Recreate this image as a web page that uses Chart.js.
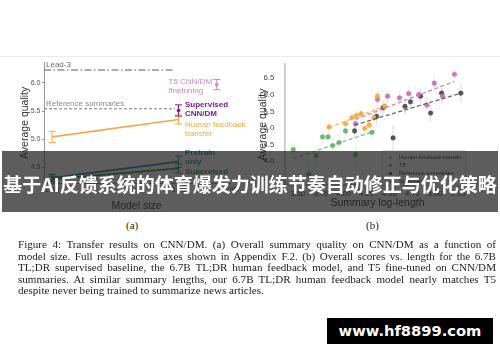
<!DOCTYPE html>
<html lang="zh">
<head>
  <meta charset="UTF-8">
  <title>Figure 4</title>
  <script src="https://cdn.jsdelivr.net/npm/chart.js"></script>
  <style>
    html, body {
      margin: 0;
      padding: 0;
      background: #fff;
    }
    body {
      position: relative;
      width: 500px;
      height: 362px;
      overflow: hidden;
      font-family: "Liberation Sans", Arial, sans-serif;
    }
    .rule {
      position: absolute;
      left: 0;
      top: 56px;
      width: 500px;
      height: 1px;
      background: #ececec;
    }
    #chart-a, #chart-b {
      position: absolute;
      top: 57px;
    }
    #chart-a { left: 0; }
    #chart-b { left: 250px; }
    .legend {
      position: absolute;
      left: 382px;
      top: 150px;
      width: 84px;
      height: 36px;
      box-sizing: border-box;
      padding: 2px 0 0 5px;
      background: rgba(255, 255, 255, 0.85);
      border: 1px solid #ddd;
      border-radius: 2px;
      font-size: 5.6px;
      color: #333;
    }
    .legend div {
      height: 8px;
      line-height: 8px;
      white-space: nowrap;
    }
    .legend span {
      display: inline-block;
      width: 3px;
      height: 3px;
      border-radius: 50%;
      margin: 0 7px 0 1px;
      vertical-align: middle;
    }
    .sub {
      position: absolute;
      top: 219px;
      font: 11px "Liberation Serif", "Times New Roman", serif;
      color: #222;
    }
    .caption {
      position: absolute;
      left: 18px;
      top: 239px;
      width: 478px;
      font: 11.1px/11.6px "Liberation Serif", "Times New Roman", serif;
      color: #222;
    }
    .caption div {
      text-align: justify;
      text-align-last: justify;
    }
    .caption div:last-child {
      text-align-last: left;
    }
    .banner {
      position: absolute;
      left: 2px;
      top: 151px;
      width: 496px;
      height: 61px;
      background: rgba(30, 30, 30, 0.72);
      color: #fff;
      font: bold 19px "Noto Sans CJK SC", sans-serif;
      display: flex;
      align-items: center;
      justify-content: center;
      padding-top: 3px;
      box-sizing: border-box;
      white-space: nowrap;
    }
    .mark {
      position: absolute;
      left: 327px;
      top: 318px;
      width: 166px;
      height: 26px;
      background: #000;
      color: #fff;
      font: bold 14.7px "DejaVu Sans", sans-serif;
      line-height: 26px;
      text-align: center;
    }
  </style>
</head>
<body>

<div class="rule"></div>
<canvas id="chart-a" width="250" height="158"></canvas>
<canvas id="chart-b" width="250" height="158"></canvas>
<div class="legend" id="legend-b"></div>

<div class="sub" style="left:126px">(a)</div>
<div class="sub" style="left:366px">(b)</div>

<div class="caption">
  <div>Figure 4: Transfer results on CNN/DM. (a) Overall summary quality on CNN/DM as a function of</div>
  <div>model size. Full results across axes shown in Appendix F.2. (b) Overall scores vs. length for the 6.7B</div>
  <div>TL;DR supervised baseline, the 6.7B TL;DR human feedback model, and T5 fine-tuned on CNN/DM</div>
  <div>summaries. At similar summary lengths, our 6.7B TL;DR human feedback model nearly matches T5</div>
  <div>despite never being trained to summarize news articles.</div>
</div>

<div class="banner">基于AI反馈系统的体育爆发力训练节奏自动修正与优化策略</div>
<div class="mark">www.hf8899.com</div>

<script>
  // (a) quality vs model size
  const sizeTicks = [1.3, 2.7, 6.7, 12.9];
  const qualityTicksA = [4.5, 5.0, 5.5, 6.0];
  const sizes = [1.3, 6.7];
  const lead3 = 6.23;
  const refSummaries = 5.54;
  const hfTransfer = [5.04, 5.35];
  const hfTransferErr = [0.10, 0.08];
  const pretrainOnly = [4.31, 4.60];
  const pretrainOnlyErr = [0.06, 0.10];
  const supervised = [4.29, 4.48];
  const supervisedErr = [0.05, 0.08];
  const supCnnSize = [6.7];
  const supCnn = [5.51];
  const supCnnErr = [0.10];
  const t5Size = [11];
  const t5Quality = [5.97];
  const t5Err = [0.09];

  // (b) quality vs summary log-length
  const lenTicks = [3.5, 3.75, 4.0, 4.25, 4.5, 4.75, 5.0, 5.25];
  const qualityTicksB = [3.5, 4.0, 4.5, 5.0, 5.5, 6.0, 6.5];
  const supLen  = [3.45, 3.62, 3.70, 3.77, 3.83, 3.88, 3.95, 4.02, 4.13, 4.31];
  const supQual = [4.35, 3.60, 4.17, 4.73, 4.73, 4.47, 4.56, 4.91, 4.20, 4.87];
  const supQErr = [0.25, 0.30, 0.25, 0.22, 0.22, 0.22, 0.22, 0.20, 0.30, 0.22];
  const hfLen  = [3.84, 4.02, 4.09, 4.14, 4.19, 4.23, 4.28, 4.33, 4.37, 4.45];
  const hfQual = [5.03, 5.13, 5.31, 5.38, 5.43, 4.99, 5.09, 5.31, 5.96, 5.66];
  const hfQErr = [0.22, 0.25, 0.22, 0.22, 0.22, 0.25, 0.25, 0.22, 0.25, 0.22];
  const t5Len  = [4.13, 4.37, 4.48, 4.61, 4.71, 4.82, 4.91, 4.99, 5.08, 5.21];
  const t5Qual = [5.13, 5.86, 5.96, 5.91, 6.04, 6.01, 5.69, 6.35, 5.96, 6.62];
  const t5QErr = [0.22, 0.22, 0.20, 0.20, 0.22, 0.22, 0.25, 0.20, 0.22, 0.15];
  const refLen  = [4.12, 4.36, 4.43, 4.54, 4.67, 4.73, 4.84, 4.95, 5.07, 5.28];
  const refQual = [4.91, 5.35, 5.61, 4.70, 5.65, 5.79, 5.96, 5.45, 6.05, 6.05];
  const refQErr = [0.25, 0.25, 0.25, 0.37, 0.25, 0.25, 0.25, 0.27, 0.25, 0.28];
  const supTrend = [[3.45, 4.08], [4.31, 4.88]];
  const hfTrend  = [[3.84, 5.01], [4.45, 5.66]];
  const t5Trend  = [[4.13, 5.26], [5.21, 6.41]];
  const refTrend = [[4.12, 5.09], [5.28, 6.05]];

  const FONT = '"Liberation Sans", Arial, sans-serif';
  const C = {
    orange: '#f5a846',
    purple: '#7c1c88',
    pink: '#c98ac2',
    teal: '#2e879c',
    green: '#3f8f4c',
    bGreen: '#5ab466',
    bOrange: '#f5a640',
    bPink: '#c56ab8',
    bGray: '#444444'
  };

  const pts = (xs, ys) => xs.map((v, i) => ({ x: v, y: ys[i] }));
  const alpha = (hex, a) => {
    const n = parseInt(hex.slice(1), 16);
    return `rgba(${n >> 16},${(n >> 8) & 255},${n & 255},${a})`;
  };

  // vertical error bars, drawn through the chart's own scales
  const errorBars = {
    id: 'errorBars',
    beforeDatasetsDraw(chart, args, opts) {
      const { ctx, scales: { x, y } } = chart;
      ctx.save();
      ctx.lineWidth = opts.width || 1;
      chart.data.datasets.forEach(ds => {
        if (!ds.errors) return;
        ctx.strokeStyle = ds.errorColor;
        ds.data.forEach((p, i) => {
          const e = ds.errors[i];
          if (!e) return;
          const px = x.getPixelForValue(p.x);
          const y0 = y.getPixelForValue(p.y - e);
          const y1 = y.getPixelForValue(p.y + e);
          ctx.beginPath();
          ctx.moveTo(px, y0);
          ctx.lineTo(px, y1);
          if (opts.cap) {
            ctx.moveTo(px - opts.cap, y0); ctx.lineTo(px + opts.cap, y0);
            ctx.moveTo(px - opts.cap, y1); ctx.lineTo(px + opts.cap, y1);
          }
          ctx.stroke();
        });
      });
      ctx.restore();
    }
  };

  // inline series labels for panel (a)
  const seriesLabels = {
    id: 'seriesLabels',
    afterDraw(chart, args, opts) {
      const { ctx, scales: { x, y } } = chart;
      ctx.save();
      ctx.textBaseline = 'middle';
      opts.items.forEach(it => {
        ctx.font = `${it.bold ? 'bold ' : ''}${it.size || 8}px ${FONT}`;
        ctx.fillStyle = it.color;
        const px = x.getPixelForValue(it.x) + it.dx;
        const py = y.getPixelForValue(it.y);
        it.lines.forEach((t, k) => ctx.fillText(t, px, py + k * 9));
      });
      ctx.restore();
    }
  };

  new Chart(document.getElementById('chart-a'), {
    type: 'line',
    data: {
      datasets: [
        { data: pts([1.17, 6.4], [lead3, lead3]), borderColor: '#5a5a5a', borderWidth: 1,
          borderDash: [7, 2.5, 1.5, 2.5], pointRadius: 0 },
        { data: pts([1.17, 6.4], [refSummaries, refSummaries]), borderColor: '#7d7d7d', borderWidth: 1,
          borderDash: [3, 2], pointRadius: 0 },
        { data: pts(sizes, hfTransfer), borderColor: C.orange, borderWidth: 1.7, pointRadius: 0,
          errors: hfTransferErr, errorColor: C.orange },
        { data: pts(sizes, pretrainOnly), borderColor: C.teal, borderWidth: 1.7, pointRadius: 0,
          errors: pretrainOnlyErr, errorColor: C.teal },
        { data: pts(sizes, supervised), borderColor: C.green, borderWidth: 1.7, pointRadius: 0,
          errors: supervisedErr, errorColor: C.green },
        { data: pts(supCnnSize, supCnn), showLine: false, pointRadius: 1.8, borderWidth: 0,
          backgroundColor: C.purple, errors: supCnnErr, errorColor: C.purple },
        { data: pts(t5Size, t5Quality), showLine: false, pointRadius: 1.8, borderWidth: 0,
          backgroundColor: C.pink, errors: t5Err, errorColor: C.pink }
      ]
    },
    options: {
      responsive: false,
      animation: false,
      layout: { padding: { top: 5, right: 21, left: 0, bottom: 0 } },
      plugins: {
        legend: { display: false },
        tooltip: { enabled: false },
        errorBars: { cap: 3.5, width: 1 },
        seriesLabels: {
          items: [
            { lines: ['Lead-3'], x: 1.17, dx: 2, y: 6.32, color: '#6a6a6a' },
            { lines: ['Reference summaries'], x: 1.17, dx: 2, y: 5.63, color: '#8a8a8a' },
            { lines: ['T5 CNN/DM', 'finetuning'], x: 6.7, dx: -10, y: 6.02, color: C.pink },
            { lines: ['Supervised', 'CNN/DM'], x: 6.7, dx: 6.5, y: 5.62, color: C.purple, bold: true },
            { lines: ['Human feedback', 'transfer'], x: 6.7, dx: 6.5, y: 5.26, color: C.orange },
            { lines: ['Pretrain', 'only'], x: 6.7, dx: 6.5, y: 4.75, color: C.teal, bold: true },
            { lines: ['Supervised'], x: 6.7, dx: 6.5, y: 4.42, color: C.green, bold: true }
          ]
        }
      },
      scales: {
        x: {
          type: 'logarithmic',
          min: 1.17,
          max: 12.9,
          afterBuildTicks: s => { s.ticks = sizeTicks.map(v => ({ value: v })); },
          afterFit: s => { s.height = 32; },
          grid: { drawOnChartArea: false, tickLength: 2, color: '#999' },
          border: { color: '#999', width: 1 },
          ticks: { autoSkip: false, maxRotation: 0, padding: 1, color: '#555',
                   font: { size: 7, family: FONT }, callback: v => v + 'B' },
          title: { display: true, text: 'Model size', color: '#333',
                   font: { size: 10.5, family: FONT }, padding: { top: 0, bottom: 2.7 } }
        },
        y: {
          min: 4.22,
          max: 6.36,
          afterBuildTicks: s => { s.ticks = qualityTicksA.map(v => ({ value: v })); },
          afterFit: s => { s.width = 44; },
          grid: { drawOnChartArea: false, tickLength: 2, color: '#999' },
          border: { color: '#999', width: 1 },
          ticks: { padding: 1.5, color: '#555', font: { size: 7, family: FONT },
                   callback: v => v.toFixed(1) },
          title: { display: true, text: 'Average quality', color: '#333',
                   font: { size: 10.5, family: FONT }, padding: { top: 18.7, bottom: 0 } }
        }
      }
    },
    plugins: [errorBars, seriesLabels]
  });

  const scatterSet = (xs, ys, errs, color) => ({
    data: pts(xs, ys), showLine: false, pointRadius: 2.4, borderWidth: 0.6,
    backgroundColor: alpha(color, 0.9), borderColor: alpha(color, 0.5),
    errors: errs, errorColor: alpha(color, 0.16)
  });
  const trendSet = (seg, color) => ({
    data: seg.map(p => ({ x: p[0], y: p[1] })), showLine: true, pointRadius: 0,
    borderColor: alpha(color, 0.8), borderWidth: 1.3, borderDash: [4, 2.5]
  });

  new Chart(document.getElementById('chart-b'), {
    type: 'scatter',
    data: {
      datasets: [
        trendSet(supTrend, C.bGreen),
        trendSet(hfTrend, C.bOrange),
        trendSet(t5Trend, C.bPink),
        trendSet(refTrend, C.bGray),
        scatterSet(hfLen, hfQual, hfQErr, C.bOrange),
        scatterSet(t5Len, t5Qual, t5QErr, C.bPink),
        scatterSet(refLen, refQual, refQErr, C.bGray),
        scatterSet(supLen, supQual, supQErr, C.bGreen)
      ]
    },
    options: {
      responsive: false,
      animation: false,
      layout: { padding: { top: 6, right: 30, left: 0, bottom: 0 } },
      plugins: {
        legend: { display: false },
        tooltip: { enabled: false },
        errorBars: { width: 1.2 }
      },
      scales: {
        x: {
          type: 'linear',
          min: 3.36,
          max: 5.38,
          afterBuildTicks: s => { s.ticks = lenTicks.map(v => ({ value: v })); },
          afterFit: s => { s.height = 30; },
          grid: { drawOnChartArea: false, tickLength: 2, color: '#bbb' },
          border: { color: '#c8c8c8', width: 1.5 },
          ticks: { autoSkip: false, maxRotation: 0, padding: 2, color: '#444',
                   font: { size: 7.5, family: FONT }, callback: v => v.toFixed(2) },
          title: { display: true, text: 'Summary log-length', color: '#333',
                   font: { size: 10.5, family: FONT }, padding: { top: 0, bottom: 5.7 } }
        },
        y: {
          min: 3.28,
          max: 6.92,
          afterBuildTicks: s => { s.ticks = qualityTicksB.map(v => ({ value: v })); },
          afterFit: s => { s.width = 35; },
          grid: { display: false },
          border: { color: '#c8c8c8', width: 1.8 },
          ticks: { padding: 2.7, color: '#444', font: { size: 7.8, family: FONT },
                   callback: v => v.toFixed(1) },
          title: { display: true, text: 'Average quality', color: '#333',
                   font: { size: 10.5, family: FONT }, padding: { top: 6.7, bottom: 0 } }
        }
      }
    },
    plugins: [errorBars]
  });

  // legend for panel (b)
  const legendNames = ['Human feedback transfer', 'T5', 'Reference summaries', 'Supervised'];
  const legendColors = [C.bOrange, C.bPink, C.bGray, C.bGreen];
  document.getElementById('legend-b').innerHTML = legendNames
    .map((n, i) => `<div><span style="background:${legendColors[i]}"></span>${n}</div>`)
    .join('');
</script>

</body>
</html>
